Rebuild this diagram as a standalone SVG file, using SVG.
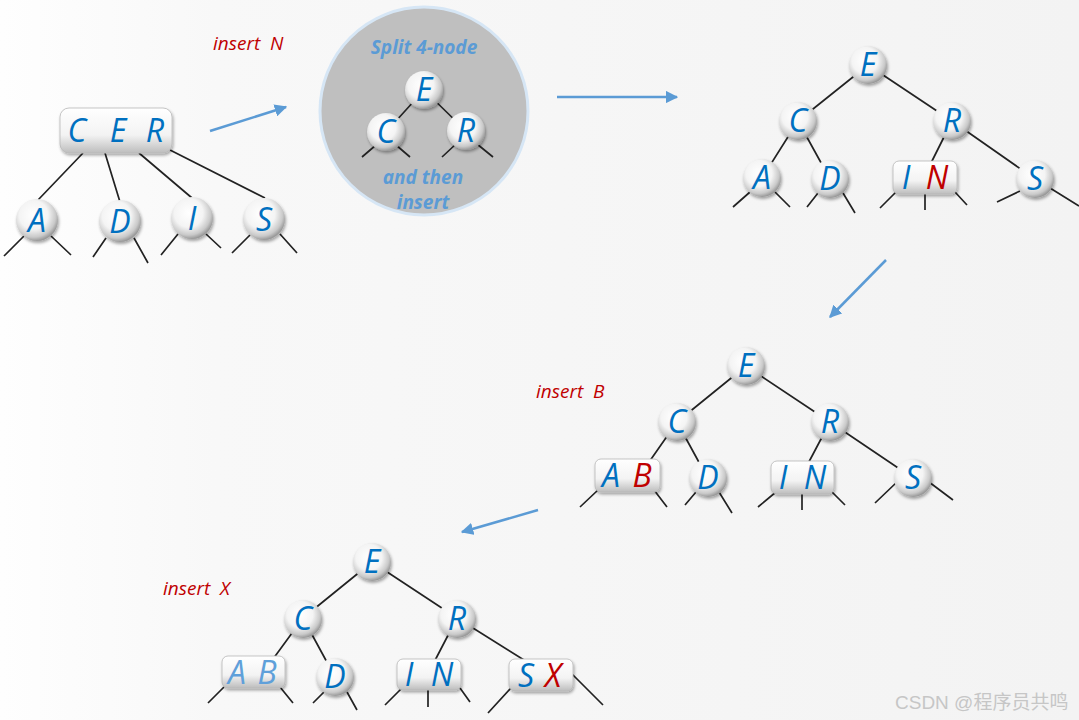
<svg xmlns="http://www.w3.org/2000/svg" width="1079" height="720" viewBox="0 0 1079 720">
<defs>
<linearGradient id="bg" x1="0" y1="0" x2="1" y2="0">
<stop offset="0" stop-color="#fefefe"/><stop offset="0.2" stop-color="#f8f8f8"/><stop offset="1" stop-color="#f3f3f3"/>
</linearGradient>
<radialGradient id="ball" cx="0.42" cy="0.38" r="0.62">
<stop offset="0" stop-color="#ffffff"/><stop offset="0.55" stop-color="#f4f4f4"/><stop offset="0.85" stop-color="#c9c9c9"/><stop offset="1" stop-color="#9a9a9a"/>
</radialGradient>
<linearGradient id="box" x1="0" y1="0" x2="0" y2="1">
<stop offset="0" stop-color="#ffffff"/><stop offset="0.6" stop-color="#f3f3f3"/><stop offset="1" stop-color="#bdbdbd"/>
</linearGradient>
<filter id="sh" x="-30%" y="-30%" width="160%" height="160%">
<feDropShadow dx="1" dy="2" stdDeviation="1.5" flood-color="#000" flood-opacity="0.35"/>
</filter>
<marker id="ah" viewBox="0 0 10 10" refX="9" refY="5" markerWidth="5" markerHeight="5" orient="auto" markerUnits="strokeWidth">
<path d="M0,0 L10,5 L0,10 z" fill="#5b9bd5"/>
</marker>
<style>
.e{stroke:#222;stroke-width:1.7;fill:none}
.b{fill:url(#ball);filter:url(#sh)}
.x{fill:url(#box);stroke:#b8b8b8;stroke-width:0.8;filter:url(#sh)}
.k{font-family:"Open Sans","Noto Sans",sans-serif;font-style:italic;font-size:32px;fill:#0070c0;text-anchor:middle}
.rd{fill:#c00000}
.lb{fill:#5fa0da}
.lab{font-family:"Open Sans","Noto Sans",sans-serif;font-style:italic;font-size:19px;fill:#c00000}
.ar{stroke:#5b9bd5;stroke-width:2.5;fill:none;marker-end:url(#ah)}
.bt{font-family:"Open Sans","Noto Sans",sans-serif;font-style:italic;font-weight:bold;font-size:19px;fill:#5b9bd5;text-anchor:middle}
</style>
</defs>
<rect width="1079" height="720" fill="url(#bg)"/>

<g id="split">
<circle cx="424" cy="111" r="104" fill="#bfbfbf" stroke="#d6e6f5" stroke-width="3"/>
<text class="bt" x="424" y="54">Split 4-node</text>
<text class="bt" x="423" y="184">and then</text>
<text class="bt" x="423" y="209">insert</text>
</g>

<g id="connectors">
<!-- tree 1 -->
<path class="e" d="M83,153 L38,200 M105,153 L120,202 M139,153 L192,198 M170,150 L265,198"/>
<path class="e" d="M24,236 L4,256 M51,236 L71,255 M106,238 L93,257 M134,238 L148,263 M178,234 L161,255 M206,234 L221,248 M250,235 L232,253 M280,234 L297,253"/>
<!-- split circle -->
<path class="e" d="M424,90 L386,132 M424,90 L466,131 M376,145 L362,157 M396,145 L410,157 M456,144 L442,157 M477,144 L493,157"/>
<!-- tree 2 -->
<path class="e" d="M868,65 L798,121 M868,65 L952,121 M798,121 L762,178 M798,121 L830,179 M952,121 L925,175 M952,121 L1035,179"/>
<path class="e" d="M750,192 L733,207 M775,192 L790,207 M818,193 L807,207 M843,193 L855,213 M896,192 L880,208 M925,194 L925,210 M955,192 L967,205 M1020,191 L997,202 M1050,188 L1079,206"/>
<!-- tree 3 -->
<path class="e" d="M746,366 L677,422 M746,366 L830,422 M677,422 L640,475 M677,422 L707,477 M830,422 L802,475 M830,422 L913,478"/>
<path class="e" d="M598,490 L580,507 M654,490 L667,507 M696,492 L685,505 M719,492 L732,513 M776,492 L758,507 M802,494 L802,510 M832,492 L845,505 M897,482 L875,503 M929,482 L953,500"/>
<!-- tree 4 -->
<path class="e" d="M372,562 L303,618 M372,562 L457,618 M303,618 L265,670 M303,618 L335,677 M457,618 L430,670 M457,618 L540,670"/>
<path class="e" d="M224,687 L208,703 M280,687 L293,703 M324,692 L313,703 M347,692 L357,710 M402,688 L385,705 M428,690 L428,707 M460,688 L470,702 M511,688 L488,713 M571,673 L603,705"/>
<!-- arrows -->
<path class="ar" d="M210,131 L286,107"/>
<path class="ar" d="M557,97 L677,97"/>
<path class="ar" d="M886,260 L830,317"/>
<path class="ar" d="M538,510 L462,532"/>
</g>

<text class="lab" x="213" y="50" xml:space="preserve">insert  N</text>
<text class="lab" x="536" y="398" xml:space="preserve">insert  B</text>
<text class="lab" x="163" y="595" xml:space="preserve">insert  X</text>

<!-- tree 1 -->
<g id="t1-CER"><rect class="x" x="60" y="108" width="112" height="45" rx="9"/><text class="k" x="77" y="142">C</text><text class="k" x="118" y="142">E</text><text class="k" x="155" y="142">R</text></g>
<g id="t1-A"><circle class="b" cx="37" cy="220" r="21"/><text class="k" x="37" y="232">A</text></g>
<g id="t1-D"><circle class="b" cx="120" cy="221" r="21"/><text class="k" x="120" y="233">D</text></g>
<g id="t1-I"><circle class="b" cx="192" cy="218" r="21"/><text class="k" x="192" y="230">I</text></g>
<g id="t1-S"><circle class="b" cx="264" cy="219" r="21"/><text class="k" x="264" y="231">S</text></g>

<!-- split 4-node nodes -->
<g id="s-E"><circle class="b" cx="424" cy="90" r="19"/><text class="k" x="424" y="101">E</text></g>
<g id="s-C"><circle class="b" cx="386" cy="132" r="19"/><text class="k" x="386" y="143">C</text></g>
<g id="s-R"><circle class="b" cx="466" cy="131" r="19"/><text class="k" x="466" y="142">R</text></g>

<!-- tree 2 -->
<g id="t2-E"><circle class="b" cx="868" cy="65" r="19"/><text class="k" x="868" y="76">E</text></g>
<g id="t2-C"><circle class="b" cx="798" cy="121" r="19"/><text class="k" x="798" y="132">C</text></g>
<g id="t2-R"><circle class="b" cx="952" cy="121" r="19"/><text class="k" x="952" y="132">R</text></g>
<g id="t2-A"><circle class="b" cx="762" cy="178" r="19"/><text class="k" x="762" y="189">A</text></g>
<g id="t2-D"><circle class="b" cx="830" cy="179" r="19"/><text class="k" x="830" y="190">D</text></g>
<g id="t2-IN"><rect class="x" x="893" y="161" width="64" height="33" rx="6"/><text class="k" x="906" y="189">I</text><text class="k rd" x="937" y="189">N</text></g>
<g id="t2-S"><circle class="b" cx="1035" cy="179" r="19"/><text class="k" x="1035" y="190">S</text></g>

<!-- tree 3 -->
<g id="t3-E"><circle class="b" cx="746" cy="366" r="19"/><text class="k" x="746" y="377">E</text></g>
<g id="t3-C"><circle class="b" cx="677" cy="422" r="19"/><text class="k" x="677" y="433">C</text></g>
<g id="t3-R"><circle class="b" cx="830" cy="422" r="19"/><text class="k" x="830" y="433">R</text></g>
<g id="t3-AB"><rect class="x" x="595" y="459" width="65" height="33" rx="6"/><text class="k" x="611" y="487">A</text><text class="k rd" x="642" y="487">B</text></g>
<g id="t3-D"><circle class="b" cx="708" cy="478" r="19"/><text class="k" x="708" y="489">D</text></g>
<g id="t3-IN"><rect class="x" x="771" y="461" width="63" height="33" rx="6"/><text class="k" x="783" y="489">I</text><text class="k" x="815" y="489">N</text></g>
<g id="t3-S"><circle class="b" cx="913" cy="478" r="19"/><text class="k" x="913" y="489">S</text></g>

<!-- tree 4 -->
<g id="t4-E"><circle class="b" cx="372" cy="562" r="19"/><text class="k" x="372" y="573">E</text></g>
<g id="t4-C"><circle class="b" cx="303" cy="619" r="19"/><text class="k" x="303" y="630">C</text></g>
<g id="t4-R"><circle class="b" cx="457" cy="619" r="19"/><text class="k" x="457" y="630">R</text></g>
<g id="t4-AB"><rect class="x" x="222" y="656" width="63" height="32" rx="6"/><text class="k lb" x="237" y="684">A</text><text class="k lb" x="267" y="684">B</text></g>
<g id="t4-D"><circle class="b" cx="335" cy="677" r="19"/><text class="k" x="335" y="688">D</text></g>
<g id="t4-IN"><rect class="x" x="397" y="659" width="64" height="31" rx="6"/><text class="k" x="409" y="686">I</text><text class="k" x="442" y="686">N</text></g>
<g id="t4-SX"><rect class="x" x="509" y="659" width="64" height="32" rx="6"/><text class="k" x="526" y="687">S</text><text class="k rd" x="553" y="687">X</text></g>

<text x="895" y="709" font-family="'Liberation Sans','Noto Sans CJK SC',sans-serif" font-size="19" fill="#c6c6c6">CSDN @程序员共鸣</text>
</svg>
